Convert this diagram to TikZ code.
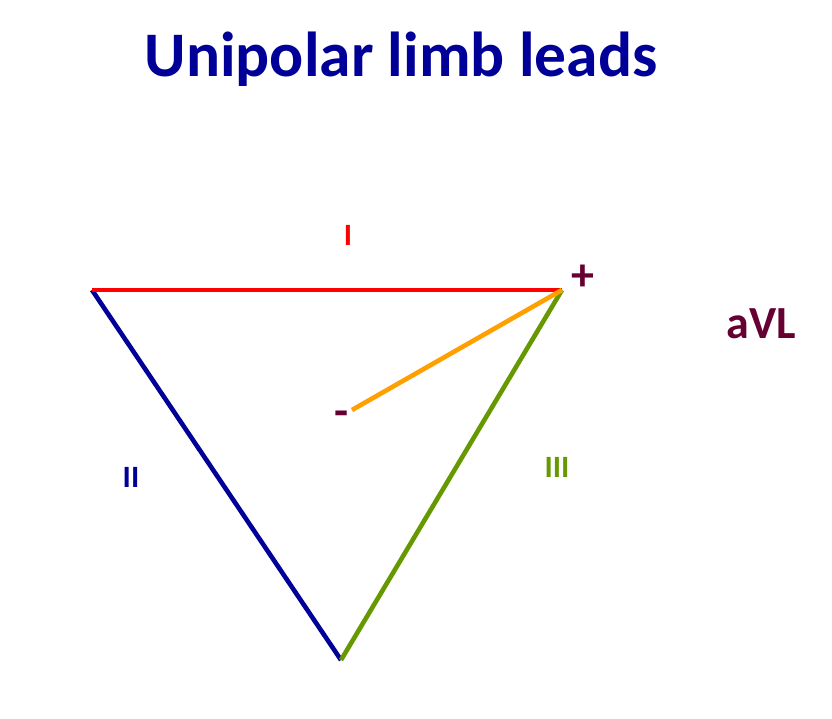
\documentclass[tikz,border=0pt]{standalone}
\usepackage{fontspec}
\setmainfont{Carlito}
\definecolor{titleblue}{HTML}{000099}
\definecolor{leadred}{HTML}{FF0000}
\definecolor{leadblue}{HTML}{000099}
\definecolor{leadgreen}{HTML}{669900}
\definecolor{leadorange}{HTML}{FF9F00}
\definecolor{maroon}{HTML}{660033}
\tikzset{
  leadline/.style={line width=4.6pt, line cap=butt},
  lbl/.style={font=\bfseries\fontsize{31}{31}\selectfont, inner sep=0pt, anchor=base},
  sign/.style={font=\bfseries\fontsize{46}{46}\selectfont, text=maroon, inner sep=0pt},
}
\begin{document}
\begin{tikzpicture}[x=1pt,y=-1pt]
\useasboundingbox (0,0) rectangle (832,719);
\node[font=\bfseries\fontsize{63.5}{63.5}\selectfont, text=titleblue, inner sep=0pt, anchor=base] (title) at (401,77) {Unipolar limb leads};
\coordinate (ra) at (92,290);
\coordinate (la) at (562,290);
\coordinate (ll) at (341,660);
\coordinate (neg) at (352,410);
\draw[leadline, leadblue] (ra) -- (ll);
\draw[leadline, leadgreen] (ll) -- (la);
\draw[leadline, leadred] (ra) -- (la);
\draw[leadline, leadorange] (neg) -- (la);
\node[lbl, text=leadred] (lI) at (348,246) {I};
\node[lbl, text=leadblue] (lII) at (131,487) {II};
\node[lbl, text=leadgreen] (lIII) at (557,477) {III};
\node[sign] (plus) at (583,278) {+};
\node[sign] (minus) at (342,419) {-};
\node[sign, anchor=base] (avl) at (761,338) {aVL};
\end{tikzpicture}
\end{document}
